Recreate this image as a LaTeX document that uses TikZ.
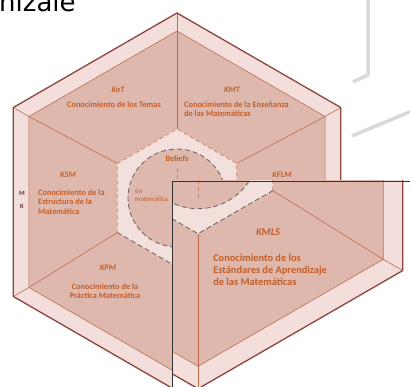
\documentclass[tikz,border=0pt]{standalone}
\usepackage{fontspec}
\newfontfamily\mtskfont{Carlito}
\newfontfamily\topfont{DejaVu Sans}
\definecolor{bandpink}{RGB}{244,222,220}
\definecolor{regionpink}{RGB}{222,184,173}
\definecolor{centerpink}{RGB}{243,224,221}
\definecolor{edgebrown}{RGB}{140,68,62}
\definecolor{linebrown}{RGB}{188,108,78}
\definecolor{textbrown}{RGB}{194,94,42}
\definecolor{dashgray}{RGB}{105,95,95}

% the hexagon itself, drawn once as is and once enlarged
\newcommand{\mtskshapes}{%
    \foreach \k/\a in {1/90,2/150,3/210,4/270,5/330,6/30}{
        \coordinate (o\k) at ([shift={(177,185)}]\a:189);
        \coordinate (i\k) at ([shift={(177,185)}]\a:171);
        \coordinate (c\k) at ([shift={(177,189)}]\a:69);
    }
    \coordinate (bel) at (177,189);

    \fill[bandpink] (o1) -- (o2) -- (o3) -- (o4) -- (o5) -- (o6) -- cycle;
    \fill[regionpink] (i1) -- (i2) -- (i3) -- (i4) -- (i5) -- (i6) -- cycle;
    \fill[centerpink] (c1) -- (c2) -- (c3) -- (c4) -- (c5) -- (c6) -- cycle;
    \fill[regionpink] (bel) circle (49);

    % Draw edges
    \foreach \k in {1,...,6}{
        \draw[innerline] (o\k) -- (i\k);
        \draw[innerline] (i\k) -- (c\k);
    }
    \draw[innerline] (i1) -- (i2) -- (i3) -- (i4) -- (i5) -- (i6) -- cycle;
    \draw[outerline] (o1) -- (o2) -- (o3) -- (o4) -- (o5) -- (o6) -- cycle;

    \draw[middash] (c5) -- (c6) -- (c1) -- (c2) -- (c3);
    \draw[beliefdash] (c3) -- (c4) -- (c5);
    \draw[beliefdash] (bel) circle (49);
    \coordinate (beltop) at (177,219);
    \coordinate (belbot) at (177,147);
    \draw[middash] (beltop) -- (belbot);
}

\begin{document}
\begin{tikzpicture}[x=1pt, y=1pt,
    outerline/.style={draw=edgebrown, line width=1.3pt, line join=miter},
    innerline/.style={draw=linebrown, line width=0.6pt},
    middash/.style={draw=linebrown!85, line width=0.7pt, dash pattern=on 4pt off 3pt},
    beliefdash/.style={draw=dashgray, line width=0.8pt, dash pattern=on 5pt off 3pt},
    tag/.style={text=textbrown, inner sep=0pt, font=\mtskfont\bfseries\itshape\fontsize{8.3}{9.5}\selectfont},
    desc/.style={text=textbrown, inner sep=0pt, align=left, font=\mtskfont\bfseries\fontsize{8.3}{9.5}\selectfont},
    small/.style={text=textbrown, inner sep=0pt, align=left, font=\mtskfont\fontsize{6.8}{8}\selectfont},
    mk/.style={text=edgebrown!70!black, inner sep=0pt, font=\mtskfont\bfseries\fontsize{6.5}{7}\selectfont},
    bgstroke/.style={draw=black!15, line width=3.5pt},
    zoomframe/.style={draw=black!80, line width=0.9pt}]
    \useasboundingbox (0,0) rectangle (410,387);
    \clip (0,0) rectangle (410,387);

    % background
    \node[anchor=base west, inner sep=0pt, font=\topfont\fontsize{26}{26}\selectfont] (toptext) at (-1,375) {nizale};
    \draw[bgstroke] (368,390) -- (368,312) -- (353,305);
    \draw[bgstroke] (352,251) -- (412,276);

    \mtskshapes

    % labels
    \node[tag] (kot) at (118,297) {KoT};
    \node[desc, align=center] (kottxt) at (114,282) {Conocimiento de los Temas};
    \node[tag] (kmt) at (232,297) {KMT};
    \node[desc, anchor=west] (kmttxt) at (184,278) {Conocimiento de la Enseñanza\\de las Matemáticas};
    \node[tag] (kflm) at (282,212) {KFLM};
    \node[tag] (ksm) at (68,212) {KSM};
    \node[desc, anchor=west] (ksmtxt) at (38,185) {Conocimiento de la\\Estructura de la\\Matemática};
    \node[tag] (kpm) at (108,119) {KPM};
    \node[desc, align=center] (kpmtxt) at (105,96) {Conocimiento de la\\Práctica Matemática};
    \node[desc, align=center] (beliefs) at (177,228) {Beliefs};
    \node[small, anchor=west] (enmat) at (135,191) {en\\matemática};
    \node[mk] (mkm) at (22,194) {M};
    \node[mk] (mkk) at (22,181) {K};

    % enlarged part
    \coordinate (zoomnw) at (172,206);
    \coordinate (zoomse) at (416,-6);
    \fill[white] (zoomnw) rectangle (zoomse);
    \begin{scope}
        \clip (zoomnw) rectangle (zoomse);
        \begin{scope}[scale around={1.25:(93,-13)}, transform shape]
            \mtskshapes
            \node[tag] (kmls) at (233,121) {KMLS};
            \node[desc, anchor=west] (kmlstxt) at (189,91) {Conocimiento de los\\Estándares de Aprendizaje\\de las Matemáticas};
        \end{scope}
    \end{scope}
    \draw[zoomframe] (zoomnw) rectangle (zoomse);
\end{tikzpicture}
\end{document}
